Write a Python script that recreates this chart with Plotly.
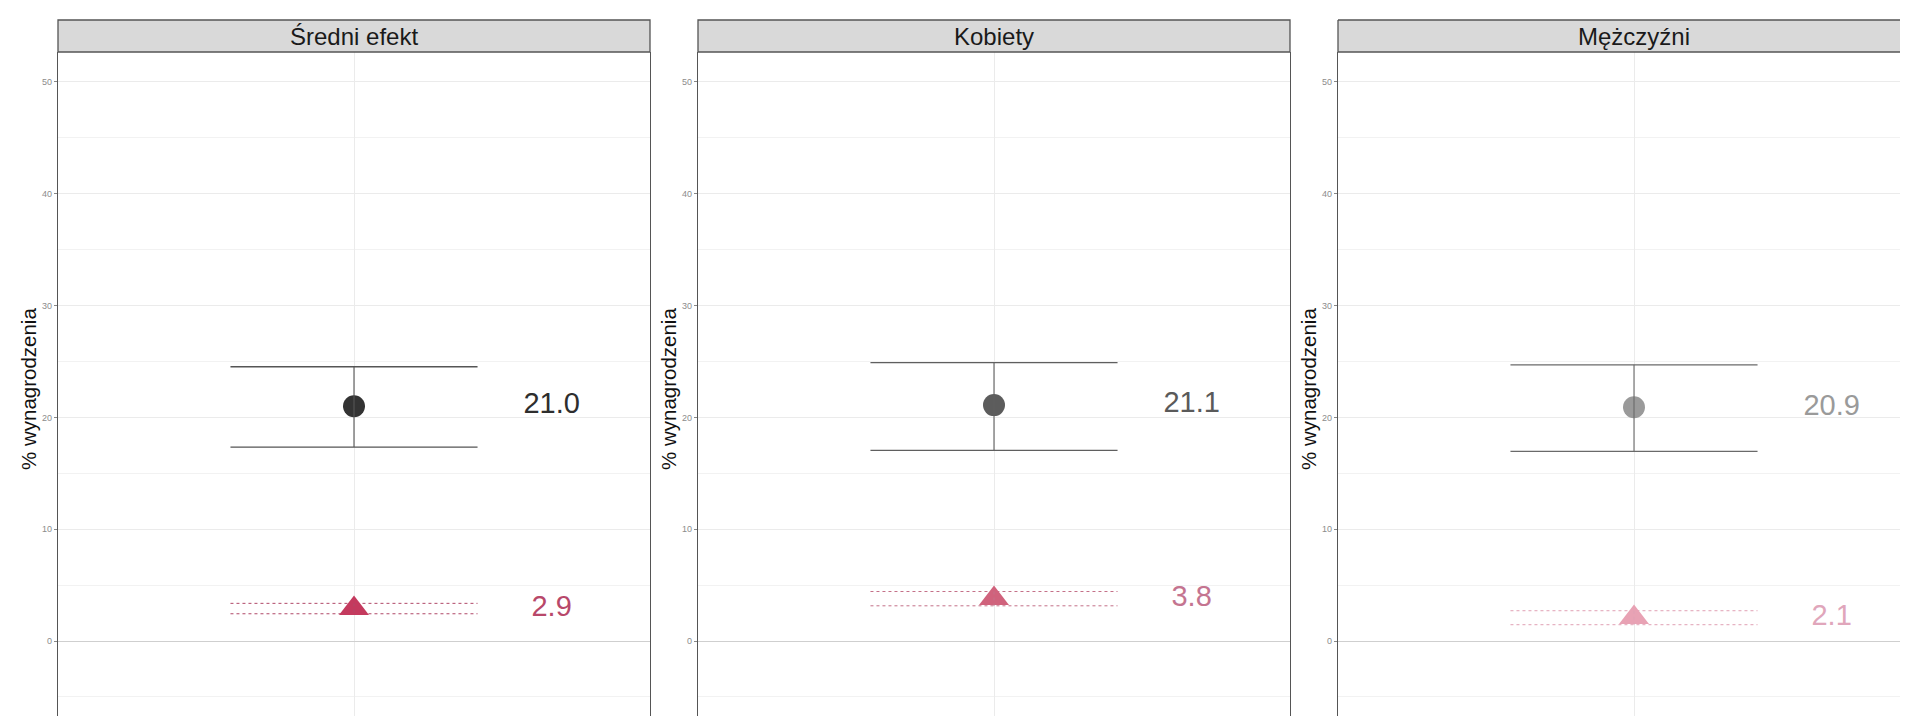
import plotly.graph_objects as go

# ---- data ----
panels = ["Średni efekt", "Kobiety", "Mężczyźni"]
circle_est = [21.0, 21.1, 20.9]
circle_lo = [17.35, 17.05, 16.97]
circle_hi = [24.53, 24.9, 24.7]
tri_est = [2.9, 3.8, 2.1]
tri_lo = [2.44, 3.15, 1.46]
tri_hi = [3.37, 4.43, 2.71]
y_ticks = [0, 10, 20, 30, 40, 50]
y_title = "% wynagrodzenia"

# ---- styles ----
W, H = 1908, 716
FONT = "Liberation Sans, Arial, sans-serif"
circle_colors = ["#333333", "#5c5c5c", "#9a9a9a"]
circle_text_colors = ["#2e2e2e", "#5a5a5a", "#9a9a9a"]
bar_colors = ["#555555", "#5f5f5f", "#6a6a6a"]
tri_colors = ["#C43A5E", "#D0627C", "#E8A2B4"]
tri_text_colors = ["#B8486A", "#C47490", "#E0A6BB"]
dot_colors = ["#B04868", "#C47088", "#E0A0B4"]

panel_px = [(50, 642), (690, 1282), (1330, 1922)]
x_range = (0.401, 1.599)
half_w = 0.25
x0 = 1.0
label_x = 1.4
plot_top = 1 - 44 / H
strip_top = 1 - 12 / H
y_range = [-7.42, 52.68]
BORDER = "#555555"

fig = go.Figure()

for i, name in enumerate(panels):
    xa = "x" if i == 0 else f"x{i+1}"
    ya = "y" if i == 0 else f"y{i+1}"
    L, R = panel_px[i]
    Rv = min(R, W)
    dom = (L / W, Rv / W)
    px_per_unit = (R - L) / (x_range[1] - x_range[0])
    rng = (x_range[0], x_range[0] + (Rv - L) / px_per_unit)

    # circle error bar
    fig.add_trace(go.Scatter(
        x=[x0 - half_w, x0 + half_w, None, x0 - half_w, x0 + half_w],
        y=[circle_hi[i], circle_hi[i], None, circle_lo[i], circle_lo[i]],
        mode="lines", line=dict(color=bar_colors[i], width=1.3),
        xaxis=xa, yaxis=ya, showlegend=False, hoverinfo="skip"))
    # circle point
    fig.add_trace(go.Scatter(
        x=[x0], y=[circle_est[i]], mode="markers",
        marker=dict(symbol="circle", size=22, color=circle_colors[i], line=dict(width=0)),
        xaxis=xa, yaxis=ya, showlegend=False))
    # vertical bar on top of point
    fig.add_trace(go.Scatter(
        x=[x0, x0], y=[circle_hi[i], circle_lo[i]], mode="lines",
        line=dict(color=bar_colors[i], width=1.1),
        xaxis=xa, yaxis=ya, showlegend=False, hoverinfo="skip"))
    # triangle CI (dotted)
    fig.add_trace(go.Scatter(
        x=[x0 - half_w, x0 + half_w, None, x0 - half_w, x0 + half_w],
        y=[tri_hi[i], tri_hi[i], None, tri_lo[i], tri_lo[i]],
        mode="lines", line=dict(color=dot_colors[i], width=1, dash="dot"),
        xaxis=xa, yaxis=ya, showlegend=False, hoverinfo="skip"))
    # triangle point
    fig.add_trace(go.Scatter(
        x=[x0], y=[tri_est[i]], mode="markers",
        marker=dict(symbol="triangle-up", size=26, color=tri_colors[i], line=dict(width=0)),
        xaxis=xa, yaxis=ya, showlegend=False))
    fig.add_trace(go.Scatter(
        x=[x0, x0], y=[tri_hi[i], tri_lo[i]], mode="lines",
        line=dict(color=dot_colors[i], width=1, dash="dot"),
        xaxis=xa, yaxis=ya, showlegend=False, hoverinfo="skip"))
    # value labels
    fig.add_trace(go.Scatter(
        x=[label_x, label_x], y=[circle_est[i], tri_est[i]], mode="text",
        text=[f"{circle_est[i]:.1f}", f"{tri_est[i]:.1f}"],
        textposition="middle center",
        textfont=dict(family=FONT, size=29, color=[circle_text_colors[i], tri_text_colors[i]]),
        xaxis=xa, yaxis=ya, showlegend=False, hoverinfo="skip"))

    xkey = "xaxis" if i == 0 else f"xaxis{i+1}"
    ykey = "yaxis" if i == 0 else f"yaxis{i+1}"
    fig.layout[xkey] = dict(
        domain=list(dom), range=list(rng), anchor=ya,
        tickvals=[x0], showticklabels=False, ticks="",
        showgrid=True, gridcolor="#EBEBEB", gridwidth=1,
        zeroline=False, showline=False, fixedrange=True)
    fig.layout[ykey] = dict(
        domain=[0, plot_top], range=y_range, anchor=xa,
        tickvals=y_ticks, ticks="outside", ticklen=3, tickwidth=1, tickcolor="#888888",
        tickfont=dict(family=FONT, size=9, color="#8c8c8c"),
        showgrid=True, gridcolor="#EBEBEB", gridwidth=1,
        minor=dict(tickvals=[-5, 5, 15, 25, 35, 45], showgrid=True, gridcolor="#F2F2F2", gridwidth=0.8, ticks=""),
        zeroline=True, zerolinecolor="#CFCFCF", zerolinewidth=1.2,
        showline=True, linecolor=BORDER, linewidth=1.3, mirror=(R <= W),
        fixedrange=True)

    # strip
    if R <= W:
        fig.add_shape(type="rect", xref="paper", yref="paper",
                      x0=dom[0], x1=dom[1], y0=plot_top, y1=strip_top,
                      fillcolor="#D9D9D9", line=dict(color=BORDER, width=1.3), layer="above")
    else:
        fig.add_shape(type="rect", xref="paper", yref="paper",
                      x0=dom[0], x1=1.0, y0=plot_top, y1=strip_top,
                      fillcolor="#D9D9D9", line=dict(width=0), layer="above")
        for (ax0, ay0, ax1, ay1) in [(dom[0], plot_top, 1.0, plot_top),
                                     (dom[0], strip_top, 1.0, strip_top),
                                     (dom[0], plot_top, dom[0], strip_top)]:
            fig.add_shape(type="line", xref="paper", yref="paper",
                          x0=ax0, y0=ay0, x1=ax1, y1=ay1,
                          line=dict(color=BORDER, width=1.3), layer="above")
    xc = (L + R) / 2 / W
    fig.add_annotation(x=xc, y=(plot_top + strip_top) / 2, xref="paper", yref="paper",
                       text=name, showarrow=False, xanchor="center", yanchor="middle",
                       font=dict(family=FONT, size=24, color="#1a1a1a"))
    # y title
    fig.add_annotation(x=(L - 29) / W, y=1 - 381 / H, xref="paper", yref="paper",
                       text=y_title, showarrow=False, textangle=-90,
                       xanchor="center", yanchor="middle",
                       font=dict(family=FONT, size=20.5, color="#111111"))

fig.update_layout(
    width=W, height=H,
    margin=dict(l=0, r=0, t=0, b=0),
    paper_bgcolor="white", plot_bgcolor="white",
    showlegend=False,
    font=dict(family=FONT),
)

fig.write_html("out.html")
